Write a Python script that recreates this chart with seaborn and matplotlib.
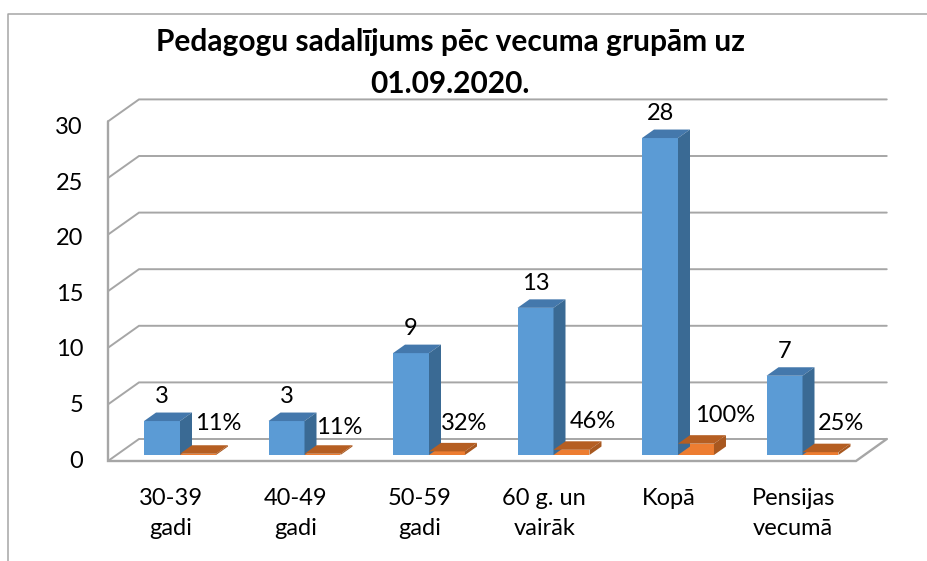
import matplotlib
matplotlib.use("Agg")
import matplotlib.pyplot as plt
from matplotlib.lines import Line2D
from matplotlib.patches import Polygon
from matplotlib.transforms import Affine2D, IdentityTransform
import pandas as pd
import seaborn as sns

categories = ["30-39\ngadi", "40-49\ngadi", "50-59\ngadi", "60 g. un\nvairāk", "Kopā", "Pensijas\nvecumā"]
counts = [3, 3, 9, 13, 28, 7]
percents = [11, 11, 32, 46, 100, 25]
title_text = "Pedagogu sadalījums pēc vecuma grupām uz\n01.09.2020."
y_ticks = [0, 5, 10, 15, 20, 25, 30]

# label nudges in pixels (hand-placed in the reference)
pct_nudge = [(20, 32), (17, 28), (17, 31), (21, 33), (29, 40), (21, 31)]

W, H = 927, 561
sns.set_theme(style="white")
plt.rcParams["font.family"] = ["Lato", "DejaVu Sans"]

fig = plt.figure(figsize=(W / 100, H / 100), dpi=100)
L, R, B0, SCALE = 117.75, 864.75, 455, 11.32
ax = fig.add_axes([L / W, (H - B0) / H, (R - L) / W, 30 * SCALE / H])

df = pd.DataFrame({
    "cat": categories * 2,
    "val": counts + [p / 100 for p in percents],
    "series": ["count"] * 6 + ["pct"] * 6,
})
sns.barplot(data=df, x="cat", y="val", hue="series", order=categories,
            palette={"count": "#5B9BD5", "pct": "#ED7D31"},
            width=0.578, gap=0, dodge=True, legend=False, ax=ax, zorder=3,
            edgecolor="none", linewidth=0, saturation=1, errorbar=None)
ax.set_xlim(-0.5, 5.5)
ax.set_ylim(0, 30)
ax.set_xlabel("")
ax.set_ylabel("")
for s in ax.spines.values():
    s.set_visible(False)
ax.patch.set_alpha(0)

GRID = "#A6A6A6"
GLW = 1.4


def shifted(dx, dy):
    return ax.transData + Affine2D().translate(dx, dy)


# gridlines: front wall edge -> back wall -> across
fx0, fy = -9.75, -6
bx0, by = 21.25, 16
bx1, fx1 = 22, -8.75
x0, x1 = ax.get_xlim()
for t in y_ticks:
    pf = shifted(fx0, fy).transform((x0, t))
    pb = shifted(bx0, by).transform((x0, t))
    pe = shifted(bx1, by).transform((x1, t))
    ax.add_line(Line2D([pf[0], pb[0], pe[0]], [pf[1], pb[1], pe[1]], color=GRID, lw=GLW,
                       transform=IdentityTransform(), zorder=1, clip_on=False,
                       solid_joinstyle="miter"))
# left wall edge, floor front and right edges
p_top = shifted(fx0, fy).transform((x0, 30))
p_bot = shifted(fx0, fy).transform((x0, 0))
p_fr = shifted(fx1, fy).transform((x1, 0))
p_br = shifted(bx1, by).transform((x1, 0))
ax.add_line(Line2D([p_top[0], p_bot[0], p_fr[0], p_br[0]], [p_top[1], p_bot[1], p_fr[1], p_br[1]],
                   color=GRID, lw=GLW + 0.3, transform=IdentityTransform(), zorder=1,
                   clip_on=False, solid_joinstyle="miter"))

# depth faces derived from the bars that seaborn drew
DX, DY = 12, 8.5
bars = list(ax.patches)
faces = {"#5B9BD5": ("#4478AC", "#3A6A94"), "#ED7D31": ("#B55E22", "#A85820")}
for i, bar in enumerate(bars):
    x, w, h = bar.get_x(), bar.get_width(), bar.get_height()
    key = "#5B9BD5" if i < 6 else "#ED7D31"
    top_c, side_c = faces[key]
    a = ax.transData.transform((x, h))
    b = ax.transData.transform((x + w, h))
    c = ax.transData.transform((x + w, 0))
    ax.add_patch(Polygon([a, b, b + (DX, DY), a + (DX, DY)], closed=True, fc=top_c, ec="none",
                         transform=IdentityTransform(), zorder=3, clip_on=False))
    ax.add_patch(Polygon([c, b, b + (DX, DY), c + (DX, DY)], closed=True, fc=side_c, ec="none",
                         transform=IdentityTransform(), zorder=3, clip_on=False))
    bar.set_clip_on(False)

# data labels
FS = 17
for i, bar in enumerate(bars[:6]):
    ax.annotate(str(counts[i]), (bar.get_x() + bar.get_width() / 2, bar.get_height()),
                xytext=(0, 24.5 * 0.72), textcoords="offset points", ha="center", va="center",
                fontsize=FS, color="#000000", annotation_clip=False, zorder=5)
for i, bar in enumerate(bars[6:]):
    nx, ny = pct_nudge[i]
    ax.annotate(f"{percents[i]}%", (bar.get_x() + bar.get_width() / 2, 0),
                xytext=(nx * 0.72, ny * 0.72), textcoords="offset points", ha="center", va="center",
                fontsize=FS, color="#000000", annotation_clip=False, zorder=5)

# axis tick labels
ax.set_yticks(y_ticks)
ax.set_yticklabels([str(t) for t in y_ticks])
ax.tick_params(axis="y", length=0, pad=25, labelsize=FS, labelcolor="#000000")
ax.tick_params(axis="x", length=0, pad=24, labelsize=FS, labelcolor="#000000")
for t, lbl in zip(y_ticks, ax.get_yticklabels()):
    lbl.set_transform(lbl.get_transform() + Affine2D().translate(0, -(4 + t * 0.2)))
for lbl in ax.get_xticklabels():
    lbl.set_transform(lbl.get_transform() + Affine2D().translate(-9.3, 0))
    lbl.set_linespacing(1.5)

fig.suptitle(title_text, x=450 / W, y=1 - 63 / H, va="center", ha="center",
             fontsize=21.5, fontweight="bold", color="#000000", linespacing=1.6)

# chart border (top and left only are inside the crop)
fig.add_artist(Line2D([7.5, 7.5, W], [0, H - 13.5, H - 13.5], color=GRID, lw=1.1,
                      transform=IdentityTransform()))

fig.savefig("out.png", dpi=100, facecolor="white")
